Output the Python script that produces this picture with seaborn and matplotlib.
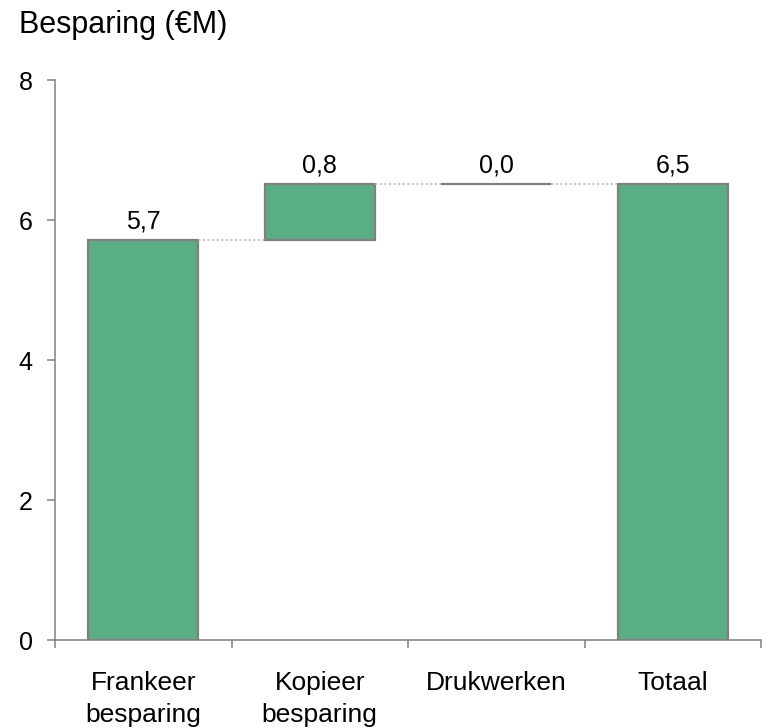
import seaborn as sns
import matplotlib.pyplot as plt
import numpy as np

categories = ["Frankeer\nbesparing", "Kopieer\nbesparing", "Drukwerken", "Totaal"]
steps = [5.72, 0.80, 0.0]
total = sum(steps)

heights = steps + [total]
bottoms = list(np.cumsum([0] + steps[:-1])) + [0]
tops = [b + h for b, h in zip(bottoms, heights)]
labels = [f"{v:.1f}".replace(".", ",") for v in heights]

sns.set_style("ticks")
plt.rcParams["font.family"] = ["Liberation Sans", "DejaVu Sans"]
plt.rcParams["text.color"] = "black"
plt.rcParams["xtick.labelcolor"] = "black"
plt.rcParams["ytick.labelcolor"] = "black"

green = "#5aae83"
grey = "#808080"
width = 0.623

fig = plt.figure(figsize=(7.71, 7.28), dpi=100)
ax = fig.add_axes([55 / 771, 1 - 640 / 728, (761 - 55) / 771, (640 - 80) / 728])

sns.barplot(x=categories, y=heights, bottom=bottoms, color=green, saturation=1,
            width=width, edgecolor=grey, linewidth=1.6, ax=ax)

# connectors between bars
for i in range(len(categories) - 1):
    ax.plot([i + width / 2, i + 1 - width / 2], [tops[i], tops[i]],
            color="#b8b8b8", lw=1.1, ls=(0, (1.5, 1.5)), zorder=1)

for i, (t, lab) in enumerate(zip(tops, labels)):
    ax.annotate(lab, (i, t), xytext=(0, 8), textcoords="offset points",
                ha="center", va="baseline", fontsize=18)

ax.set_xlim(-0.5, 3.5)
ax.set_ylim(0, 8)
ax.set_yticks([0, 2, 4, 6, 8])
ax.set_xticks([-0.5, 0.5, 1.5, 2.5, 3.5], labels=["", "", "", "", ""])
ax.set_xticks(range(4), labels=categories, minor=True, linespacing=1.45)
ax.tick_params(axis="x", which="major", length=6, width=1.1, color=grey, direction="out")
ax.tick_params(axis="x", which="minor", length=0, pad=22, labelsize=19)
ax.tick_params(axis="y", length=6, width=1.1, color=grey, direction="out", pad=10, labelsize=18)
ax.set_xlabel("")

sns.despine(ax=ax)
for s in ["left", "bottom"]:
    ax.spines[s].set_color(grey)
    ax.spines[s].set_linewidth(1.1)

fig.text(19 / 771, 1 - 33 / 728, "Besparing (€M)", va="baseline", ha="left", fontsize=22)

fig.savefig("out.png", dpi=100)
